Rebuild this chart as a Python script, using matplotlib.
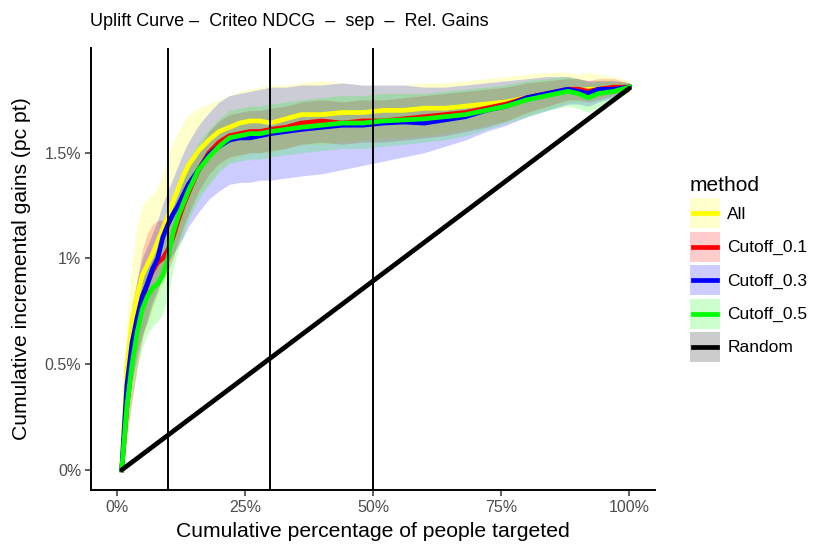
import numpy as np
import matplotlib
matplotlib.use("Agg")
import matplotlib.pyplot as plt
from matplotlib.patches import Rectangle
from matplotlib.lines import Line2D
from matplotlib.legend_handler import HandlerBase

plt.rcParams['font.family'] = ['Liberation Sans', 'DejaVu Sans']

# percentage of people targeted
pct = [1, 2, 3, 4, 5, 6, 7, 8, 9, 10, 11, 12, 13, 14, 16, 18, 20, 22, 24, 26, 28, 30,
       33, 36, 40, 44, 48, 52, 56, 60, 64, 68, 72, 76, 80, 84, 88, 90, 92, 94, 97, 100]

all_mean = [0, .50, .70, .82, .92, .97, 1.02, 1.08, 1.14, 1.20, 1.27, 1.33, 1.39, 1.44, 1.51, 1.56, 1.60, 1.62, 1.64, 1.65, 1.65, 1.64,
            1.66, 1.68, 1.68, 1.69, 1.69, 1.70, 1.70, 1.71, 1.71, 1.72, 1.73, 1.74, 1.76, 1.78, 1.80, 1.79, 1.80, 1.80, 1.81, 1.81]
all_hi = [0, .70, 1.00, 1.15, 1.25, 1.28, 1.30, 1.34, 1.40, 1.48, 1.55, 1.60, 1.64, 1.68, 1.71, 1.73, 1.75, 1.77, 1.79, 1.80, 1.81, 1.82,
          1.82, 1.83, 1.84, 1.83, 1.82, 1.82, 1.82, 1.83, 1.83, 1.84, 1.85, 1.86, 1.87, 1.88, 1.88, 1.87, 1.88, 1.87, 1.86, 1.84]
all_lo = [0, .30, .45, .55, .62, .68, .74, .82, .88, .95, 1.02, 1.08, 1.14, 1.20, 1.30, 1.36, 1.42, 1.46, 1.48, 1.50, 1.50, 1.50,
          1.52, 1.54, 1.54, 1.55, 1.56, 1.57, 1.57, 1.58, 1.59, 1.61, 1.63, 1.65, 1.68, 1.71, 1.74, 1.74, 1.75, 1.76, 1.78, 1.78]

c01_mean = [0, .30, .52, .68, .80, .88, .94, .98, 1.00, 1.04, 1.10, 1.18, 1.25, 1.31, 1.42, 1.50, 1.55, 1.58, 1.59, 1.60, 1.60, 1.61,
            1.62, 1.64, 1.65, 1.64, 1.65, 1.65, 1.66, 1.67, 1.68, 1.69, 1.71, 1.73, 1.76, 1.78, 1.80, 1.80, 1.79, 1.80, 1.81, 1.81]
c01_hi = [0, .42, .70, .90, 1.04, 1.12, 1.16, 1.18, 1.18, 1.20, 1.24, 1.30, 1.37, 1.43, 1.52, 1.60, 1.65, 1.68, 1.69, 1.70, 1.70, 1.71,
          1.72, 1.74, 1.75, 1.74, 1.75, 1.75, 1.76, 1.77, 1.78, 1.79, 1.80, 1.81, 1.83, 1.84, 1.85, 1.85, 1.84, 1.85, 1.85, 1.83]
c01_lo = [0, .15, .32, .48, .62, .72, .80, .86, .90, .94, 1.00, 1.08, 1.15, 1.21, 1.32, 1.40, 1.45, 1.48, 1.49, 1.50, 1.50, 1.51,
          1.52, 1.54, 1.55, 1.54, 1.55, 1.55, 1.56, 1.57, 1.58, 1.60, 1.62, 1.65, 1.69, 1.72, 1.75, 1.75, 1.74, 1.75, 1.77, 1.79]

c03_mean = [0, .40, .60, .72, .82, .88, .95, 1.00, 1.10, 1.16, 1.21, 1.25, 1.30, 1.35, 1.42, 1.49, 1.53, 1.56, 1.57, 1.57, 1.58, 1.59,
            1.60, 1.61, 1.62, 1.63, 1.63, 1.64, 1.645, 1.64, 1.655, 1.67, 1.70, 1.72, 1.76, 1.78, 1.80, 1.79, 1.78, 1.80, 1.80, 1.81]
c03_hi = [0, .55, .78, .90, 1.00, 1.06, 1.12, 1.18, 1.26, 1.32, 1.38, 1.44, 1.50, 1.55, 1.63, 1.69, 1.74, 1.77, 1.78, 1.79, 1.80, 1.81,
          1.81, 1.82, 1.82, 1.83, 1.82, 1.82, 1.82, 1.81, 1.81, 1.82, 1.83, 1.84, 1.85, 1.86, 1.86, 1.85, 1.84, 1.84, 1.84, 1.83]
c03_lo = [0, .25, .42, .54, .64, .70, .78, .84, .92, .98, 1.02, 1.06, 1.10, 1.15, 1.22, 1.28, 1.32, 1.35, 1.36, 1.36, 1.37, 1.37,
          1.38, 1.39, 1.40, 1.42, 1.44, 1.46, 1.48, 1.50, 1.53, 1.56, 1.60, 1.63, 1.67, 1.70, 1.73, 1.73, 1.72, 1.74, 1.76, 1.79]

c05_mean = [0, .30, .50, .65, .76, .82, .86, .88, .92, 1.00, 1.12, 1.20, 1.26, 1.32, 1.42, 1.48, 1.53, 1.57, 1.58, 1.59, 1.59, 1.60,
            1.61, 1.62, 1.63, 1.64, 1.64, 1.65, 1.655, 1.66, 1.67, 1.68, 1.70, 1.72, 1.75, 1.77, 1.79, 1.78, 1.76, 1.78, 1.79, 1.81]
c05_hi = [0, .42, .65, .82, .93, 1.00, 1.04, 1.06, 1.10, 1.16, 1.27, 1.34, 1.40, 1.46, 1.55, 1.61, 1.66, 1.70, 1.71, 1.72, 1.72, 1.73,
          1.74, 1.75, 1.76, 1.77, 1.77, 1.78, 1.78, 1.78, 1.79, 1.80, 1.81, 1.82, 1.84, 1.85, 1.86, 1.85, 1.83, 1.84, 1.84, 1.83]
c05_lo = [0, .18, .35, .48, .58, .64, .68, .70, .74, .82, .95, 1.04, 1.11, 1.18, 1.28, 1.35, 1.41, 1.45, 1.46, 1.47, 1.47, 1.48,
          1.49, 1.50, 1.51, 1.52, 1.52, 1.53, 1.54, 1.55, 1.56, 1.58, 1.61, 1.64, 1.67, 1.70, 1.72, 1.71, 1.69, 1.72, 1.74, 1.79]

random_pct = [1, 100]
random_gain = [0, 1.805]

cutoffs = [10, 30, 50]

methods = ["All", "Cutoff_0.1", "Cutoff_0.3", "Cutoff_0.5", "Random"]
colors = ["#FFFF00", "#FF0000", "#0000FF", "#00FF00", "#000000"]

x_ticks = [0, 25, 50, 75, 100]
y_ticks = [0, 0.5, 1, 1.5]

LW = 3.4


class KeyHandler(HandlerBase):
    # ggplot style key: light ribbon square with the line across the middle
    def create_artists(self, legend, orig_handle, xdescent, ydescent,
                       width, height, fontsize, trans):
        col = orig_handle.get_color()
        box = Rectangle((-xdescent, -ydescent), width, height, facecolor=col,
                        alpha=0.2, edgecolor="none", transform=trans)
        mid = -ydescent + height / 2
        ln = Line2D([-xdescent + 2, -xdescent + width - 2], [mid, mid],
                    color=col, lw=LW, transform=trans)
        return [box, ln]


def main():
    fig = plt.figure(figsize=(8.3, 5.54), dpi=100)
    ax = fig.add_axes([91 / 830, 1 - 490 / 554, 564 / 830, 442 / 554])

    series = [(all_mean, all_lo, all_hi), (c01_mean, c01_lo, c01_hi),
              (c03_mean, c03_lo, c03_hi), (c05_mean, c05_lo, c05_hi)]

    # ribbons first, then lines on top
    for (m, lo, hi), col in zip(series, colors):
        ax.fill_between(pct, lo, hi, color=col, alpha=0.2, linewidth=0)
    for (m, lo, hi), col in zip(series, colors):
        ax.plot(pct, m, color=col, lw=LW, solid_joinstyle='round')
    ax.plot(random_pct, random_gain, color="black", lw=LW, solid_capstyle='round')

    for c in cutoffs:
        ax.axvline(c, color="black", lw=1.4)

    ax.set_xlim(-5, 105)
    ax.set_ylim(-0.095, 1.995)
    ax.set_xticks(x_ticks)
    ax.set_xticklabels([f"{v}%" for v in x_ticks])
    ax.set_yticks(y_ticks)
    ax.set_yticklabels([f"{v:g}%" for v in y_ticks])

    for s in ["top", "right"]:
        ax.spines[s].set_visible(False)
    for s in ["left", "bottom"]:
        ax.spines[s].set_linewidth(1.4)
    ax.tick_params(axis="both", colors="#333333", labelcolor="#4D4D4D", labelsize=11.5,
                   length=4, width=1.1, pad=3)

    ax.set_xlabel("Cumulative percentage of people targeted", fontsize=15.2, labelpad=5)
    ax.set_ylabel("Cumulative incremental gains (pc pt)", fontsize=15.2, labelpad=10)
    fig.text(90 / 830, 1 - 21 / 554,
             "Uplift Curve \u2013  Criteo NDCG  \u2013  sep  \u2013  Rel. Gains",
             ha="left", va="center", fontsize=13)

    handles = [Line2D([], [], color=col) for col in colors]
    fig.legend(handles, methods, title="method", loc="upper left",
               bbox_to_anchor=(688 / 830, 1 - 174 / 554), frameon=False,
               fontsize=12.5, title_fontsize=15, handlelength=1.72, handleheight=2.28,
               labelspacing=0.2, handletextpad=0.45, borderpad=0.1,
               borderaxespad=0, alignment="left",
               handler_map={Line2D: KeyHandler()})

    fig.savefig("out.png", dpi=100)


if __name__ == "__main__":
    main()
